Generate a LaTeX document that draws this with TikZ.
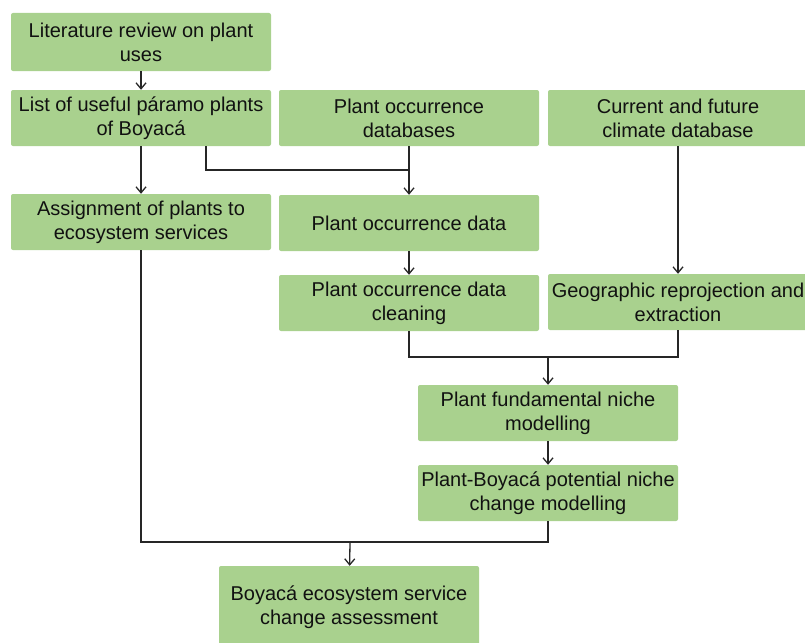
\documentclass[tikz,border=0pt]{standalone}
\usepackage{fontspec}
\setmainfont{Liberation Sans}
\usetikzlibrary{arrows.meta}
\definecolor{boxgreen}{HTML}{A9D18E}
\definecolor{txt}{HTML}{111111}
\begin{document}
\begin{tikzpicture}[x=1pt,y=-1pt,
  box/.style={fill=boxgreen, rounded corners=2pt, minimum width=260pt, minimum height=56pt,
    align=center, font=\fontsize{20}{24}\selectfont, inner sep=0pt, text=txt},
  conn/.style={draw=black!85, line width=1.3pt},
  arr/.style={conn, -{Straight Barb[length=6pt,width=10pt]}}]
\useasboundingbox (0,0) rectangle (805,642);
\clip (0,0) rectangle (805,642);
\node[box, minimum height=58pt] (lit) at (141,42) {Literature review on plant\\uses};
\node[box] (list) at (141,118) {List of useful páramo plants\\of Boyacá};
\node[box] (occdb) at (409,118) {Plant occurrence\\databases};
\node[box] (clim) at (678,118) {Current and future\\climate database};
\node[box] (assign) at (141,222) {Assignment of plants to\\ecosystem services};
\node[box] (occdata) at (409,223) {Plant occurrence data};
\node[box] (clean) at (409,303) {Plant occurrence data\\cleaning};
\node[box] (geo) at (678,302) {Geographic reprojection and\\extraction};
\node[box] (fund) at (548,413) {Plant fundamental niche\\modelling};
\node[box] (change) at (548,493) {Plant-Boyacá potential niche\\change modelling};
\node[box, minimum height=82pt] (final) at (349,607) {Boyacá ecosystem service\\change assessment};
\coordinate (j1) at (409,170);
\coordinate (j2) at (548,357);
\coordinate (j3) at (350,542);
\draw[arr] (lit) -- (list);
\draw[arr] (list) -- (assign);
\draw[conn] ([xshift=65pt]list.south) |- (j1);
\draw[arr] (occdb) -- (occdata);
\draw[arr] (occdata) -- (clean);
\draw[arr] (clim) -- (geo);
\draw[conn] (clean.south) |- (j2);
\draw[conn] (geo.south) |- (j2);
\draw[arr] (j2) -- (fund);
\draw[arr] (fund) -- (change);
\draw[conn] (assign.south) |- (j3);
\draw[conn] (change.south) |- (j3);
\draw[arr] (j3) -- (final);
\end{tikzpicture}
\end{document}
